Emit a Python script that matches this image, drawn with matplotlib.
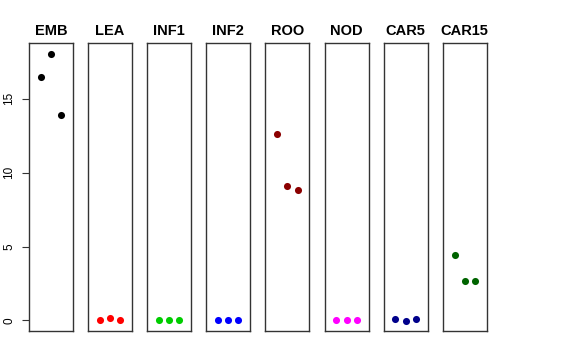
import numpy as np
import matplotlib.pyplot as plt

plt.rcParams['font.family'] = ['Liberation Sans', 'DejaVu Sans']

tissues = ["EMB", "LEA", "INF1", "INF2", "ROO", "NOD", "CAR5", "CAR15"]
colors = ["black", "red", "#00cd00", "blue", "#8b0000", "magenta", "#00008b", "#006400"]
values = [
    [16.47, 18.06, 13.94],
    [0.0, 0.18, 0.0],
    [0.0, 0.0, 0.0],
    [0.0, 0.0, 0.0],
    [12.65, 9.07, 8.86],
    [0.0, 0.0, 0.0],
    [0.07, -0.02, 0.09],
    [4.4, 2.64, 2.64],
]
yticks = [0, 5, 10, 15]

W, H = 576, 360
fig = plt.figure(figsize=(W / 100, H / 100), dpi=100)

ymax = 18.06
pad = ymax * 0.04
left0, step, width = 29, 59.1, 44
top, bottom = 43, 331

for i, (name, col, vals) in enumerate(zip(tissues, colors, values)):
    x0 = left0 + i * step
    ax = fig.add_axes([x0 / W, 1 - bottom / H, width / W, (bottom - top) / H])
    ax.scatter([1, 2, 3], vals, s=26, color=col, zorder=3, linewidths=0)
    ax.set_xlim(-0.16, 4.16)
    ax.set_ylim(-pad, ymax + pad)
    ax.set_xticks([])
    for sp in ax.spines.values():
        sp.set_color("#333333")
        sp.set_linewidth(1.0)
    ax.set_title(name, fontsize=10.5, fontweight="bold", pad=6)
    if i == 0:
        ax.set_yticks(yticks)
        ax.set_yticklabels([str(t) for t in yticks], rotation=90, va="center", fontsize=8.5)
        ax.tick_params(axis="y", length=5, pad=5, color="#333333")
    else:
        ax.set_yticks([])

fig.savefig("out.png", dpi=100)
